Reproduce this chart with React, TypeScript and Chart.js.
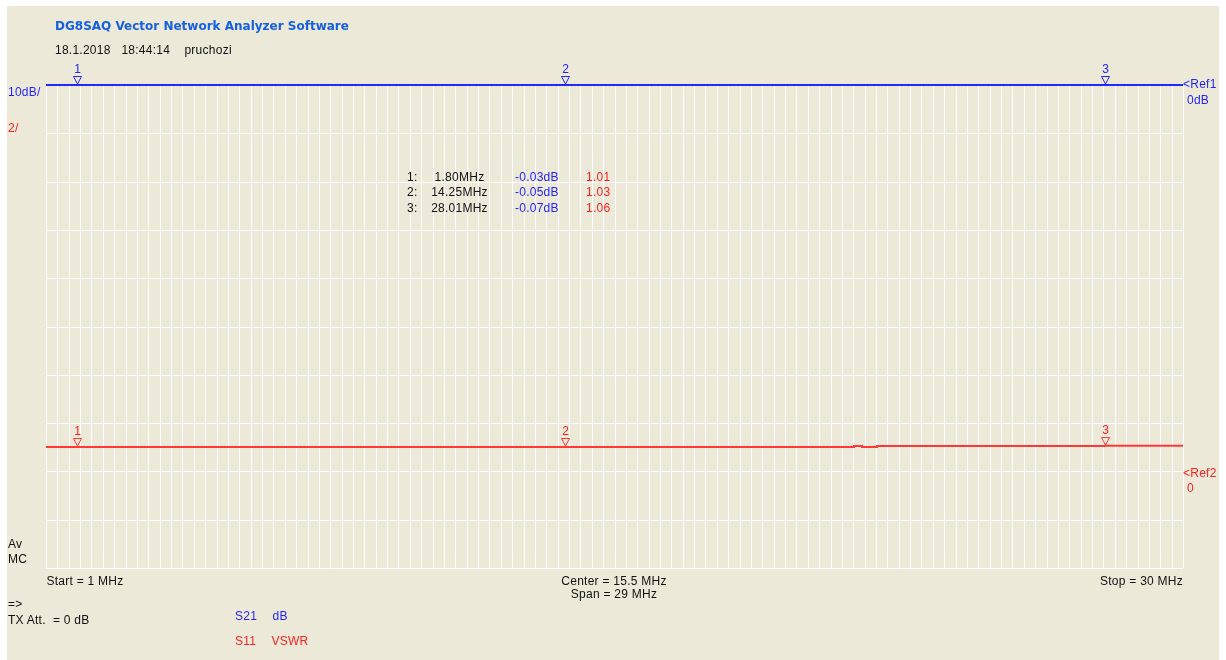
import React, { useEffect, useRef } from "react";
import { Chart, registerables } from "chart.js";

Chart.register(...registerables);

// ---- data ----
const startMHz = 1;
const stopMHz = 30;
const xDivisions = 100;

const sweepFreqMHz = [1, 1.8, 5, 9, 14.25, 18, 21.6, 21.8, 22.2, 26, 28.01, 30];
const s21dB = [-0.03, -0.03, -0.04, -0.04, -0.05, -0.06, -0.06, -0.06, -0.06, -0.07, -0.07, -0.07];
const s11VSWR = [1.01, 1.01, 1.01, 1.01, 1.01, 1.01, 1.05, 1.01, 1.05, 1.05, 1.06, 1.06];

const markerNumbers = ["1", "2", "3"];
const markerFreqMHz = [1.8, 14.25, 28.01];
const markerS21dB = [-0.03, -0.05, -0.07];
const markerVSWR = [1.01, 1.03, 1.06];
const markerFreqLabels = ["1.80MHz", "14.25MHz", "28.01MHz"];
const markerDbLabels = ["-0.03dB", "-0.05dB", "-0.07dB"];
const markerVswrLabels = ["1.01", "1.03", "1.06"];

const dbMin = -100;
const dbMax = 0;
const dbStep = 10;
const vswrMin = -4;
const vswrMax = 16;

const BLUE_TRACE = "#2626ff";
const RED_TRACE = "#ff3838";
const BLUE_TEXT = "#1f1fff";
const RED_TEXT = "#ff1f1f";
const BG = "#ece9d8";

const markerPlugin = {
  id: "vnaMarkers",
  afterDatasetsDraw(chart: any) {
    const ctx = chart.ctx as CanvasRenderingContext2D;
    const xs = chart.scales.x;
    const traces = [
      { axis: "yDb", values: markerS21dB, color: BLUE_TRACE, text: BLUE_TEXT },
      { axis: "yVswr", values: markerVSWR, color: RED_TRACE, text: RED_TEXT },
    ];
    ctx.save();
    traces.forEach((t) => {
      const ys = chart.scales[t.axis];
      markerFreqMHz.forEach((f, i) => {
        const x = Math.round(xs.getPixelForValue(f)) + 0.5;
        const y = Math.round(ys.getPixelForValue(t.values[i]));
        ctx.strokeStyle = t.color;
        ctx.lineWidth = 1;
        ctx.beginPath();
        ctx.moveTo(x - 4, y - 8.5);
        ctx.lineTo(x + 4, y - 8.5);
        ctx.lineTo(x, y - 1);
        ctx.closePath();
        ctx.stroke();
        ctx.fillStyle = t.text;
        ctx.font = "12px 'Liberation Sans', Arial, sans-serif";
        ctx.textAlign = "center";
        ctx.textBaseline = "alphabetic";
        ctx.fillText(markerNumbers[i], x, y - 12);
      });
    });
    ctx.restore();
  },
};

type TProps = {
  x: number;
  base: number;
  text: string;
  color?: string;
  size?: number;
  bold?: boolean;
  family?: string;
  align?: "left" | "right" | "center";
  spacing?: number;
};

function T({ x, base, text, color = "#111", size = 12, bold = false, family, align = "left", spacing = 0.25 }: TProps) {
  const fam = family || "'Liberation Sans', Arial, sans-serif";
  const style: React.CSSProperties = {
    position: "absolute",
    top: base - 0.85 * size,
    fontFamily: fam,
    fontSize: size,
    lineHeight: `${size}px`,
    fontWeight: bold ? "bold" : "normal",
    color,
    whiteSpace: "pre",
    letterSpacing: spacing,
  };
  if (align === "left") style.left = x;
  else if (align === "right") style.right = 1226 - x;
  else {
    style.left = x;
    style.transform = "translateX(-50%)";
  }
  return <div style={style}>{text}</div>;
}

export default function App() {
  const canvasRef = useRef<HTMLCanvasElement | null>(null);

  useEffect(() => {
    if (!canvasRef.current) return;
    const gridTicks: { value: number }[] = [];
    for (let i = 0; i <= xDivisions; i++) {
      gridTicks.push({ value: startMHz + ((stopMHz - startMHz) * i) / xDivisions });
    }
    const chart = new Chart(canvasRef.current, {
      type: "line",
      data: {
        datasets: [
          {
            label: "S21 dB",
            data: sweepFreqMHz.map((f, i) => ({ x: f, y: s21dB[i] })),
            yAxisID: "yDb",
            borderColor: BLUE_TRACE,
            borderWidth: 2,
            pointRadius: 0,
            tension: 0,
            stepped: "before",
            clip: 6,
          },
          {
            label: "S11 VSWR",
            data: sweepFreqMHz.map((f, i) => ({ x: f, y: s11VSWR[i] })),
            yAxisID: "yVswr",
            borderColor: RED_TRACE,
            borderWidth: 2,
            pointRadius: 0,
            tension: 0,
            stepped: "before",
            clip: 6,
          },
        ],
      },
      options: {
        animation: false,
        responsive: false,
        devicePixelRatio: 1,
        layout: { padding: { left: 46, top: 85, right: 43, bottom: 92 } },
        plugins: { legend: { display: false }, tooltip: { enabled: false } },
        events: [],
        scales: {
          x: {
            type: "linear",
            min: startMHz,
            max: stopMHz,
            alignToPixels: true,
            afterBuildTicks: (scale: any) => {
              scale.ticks = gridTicks.slice();
            },
            ticks: { display: false },
            grid: { color: "#ffffff", lineWidth: 1, drawTicks: false },
            border: { display: false },
          },
          yDb: {
            type: "linear",
            position: "left",
            min: dbMin,
            max: dbMax,
            alignToPixels: true,
            ticks: { display: false, stepSize: dbStep },
            grid: { color: "#ffffff", lineWidth: 1, drawTicks: false },
            border: { display: false },
          },
          yVswr: {
            type: "linear",
            position: "right",
            min: vswrMin,
            max: vswrMax,
            display: false,
          },
        },
      } as any,
      plugins: [markerPlugin],
    });
    return () => chart.destroy();
  }, []);

  const rowBases = [181, 196.5, 212];

  return (
    <div style={{ position: "absolute", left: 0, top: 0, width: 1226, height: 660, background: "#ffffff", overflow: "hidden" }}>
      <div style={{ position: "absolute", left: 7, top: 6, width: 1212, height: 654, background: BG }} />
      <canvas ref={canvasRef} width={1226} height={660} style={{ position: "absolute", left: 0, top: 0, width: 1226, height: 660 }} />

      <T x={55} base={30} text="DG8SAQ Vector Network Analyzer Software" color="#1560e0" size={12} bold family="'DejaVu Sans', Verdana, sans-serif" spacing={0} />
      <T x={55} base={54.5} text={"18.1.2018   18:44:14    pruchozi"} color="#111" />

      <T x={8} base={96} text="10dB/" color={BLUE_TEXT} />
      <T x={8} base={132} text="2/" color={RED_TEXT} />

      <T x={1183} base={88.5} text="<Ref1" color={BLUE_TEXT} />
      <T x={1187} base={104.5} text="0dB" color={BLUE_TEXT} />
      <T x={1183} base={477.5} text="<Ref2" color={RED_TEXT} />
      <T x={1187} base={492} text="0" color={RED_TEXT} />

      {markerNumbers.map((n, i) => (
        <React.Fragment key={n}>
          <T x={407} base={rowBases[i]} text={`${n}:`} />
          <T x={459.5} base={rowBases[i]} text={markerFreqLabels[i]} align="center" />
          <T x={515} base={rowBases[i]} text={markerDbLabels[i]} color={BLUE_TEXT} />
          <T x={586} base={rowBases[i]} text={markerVswrLabels[i]} color={RED_TEXT} />
        </React.Fragment>
      ))}

      <T x={8} base={548.5} text="Av" />
      <T x={8} base={563.5} text="MC" />

      <T x={46.5} base={585} text="Start = 1 MHz" />
      <T x={614} base={585} text="Center = 15.5 MHz" align="center" />
      <T x={614} base={598.5} text="Span = 29 MHz" align="center" />
      <T x={1183} base={585} text="Stop = 30 MHz" align="right" />

      <T x={8} base={608} text="=>" />
      <T x={8} base={624} text={"TX Att.  = 0 dB"} />

      <T x={235} base={620} text="S21" color={BLUE_TEXT} />
      <T x={272.5} base={620} text="dB" color={BLUE_TEXT} />
      <T x={235} base={645} text="S11" color={RED_TEXT} />
      <T x={271.5} base={645} text="VSWR" color={RED_TEXT} />
    </div>
  );
}
